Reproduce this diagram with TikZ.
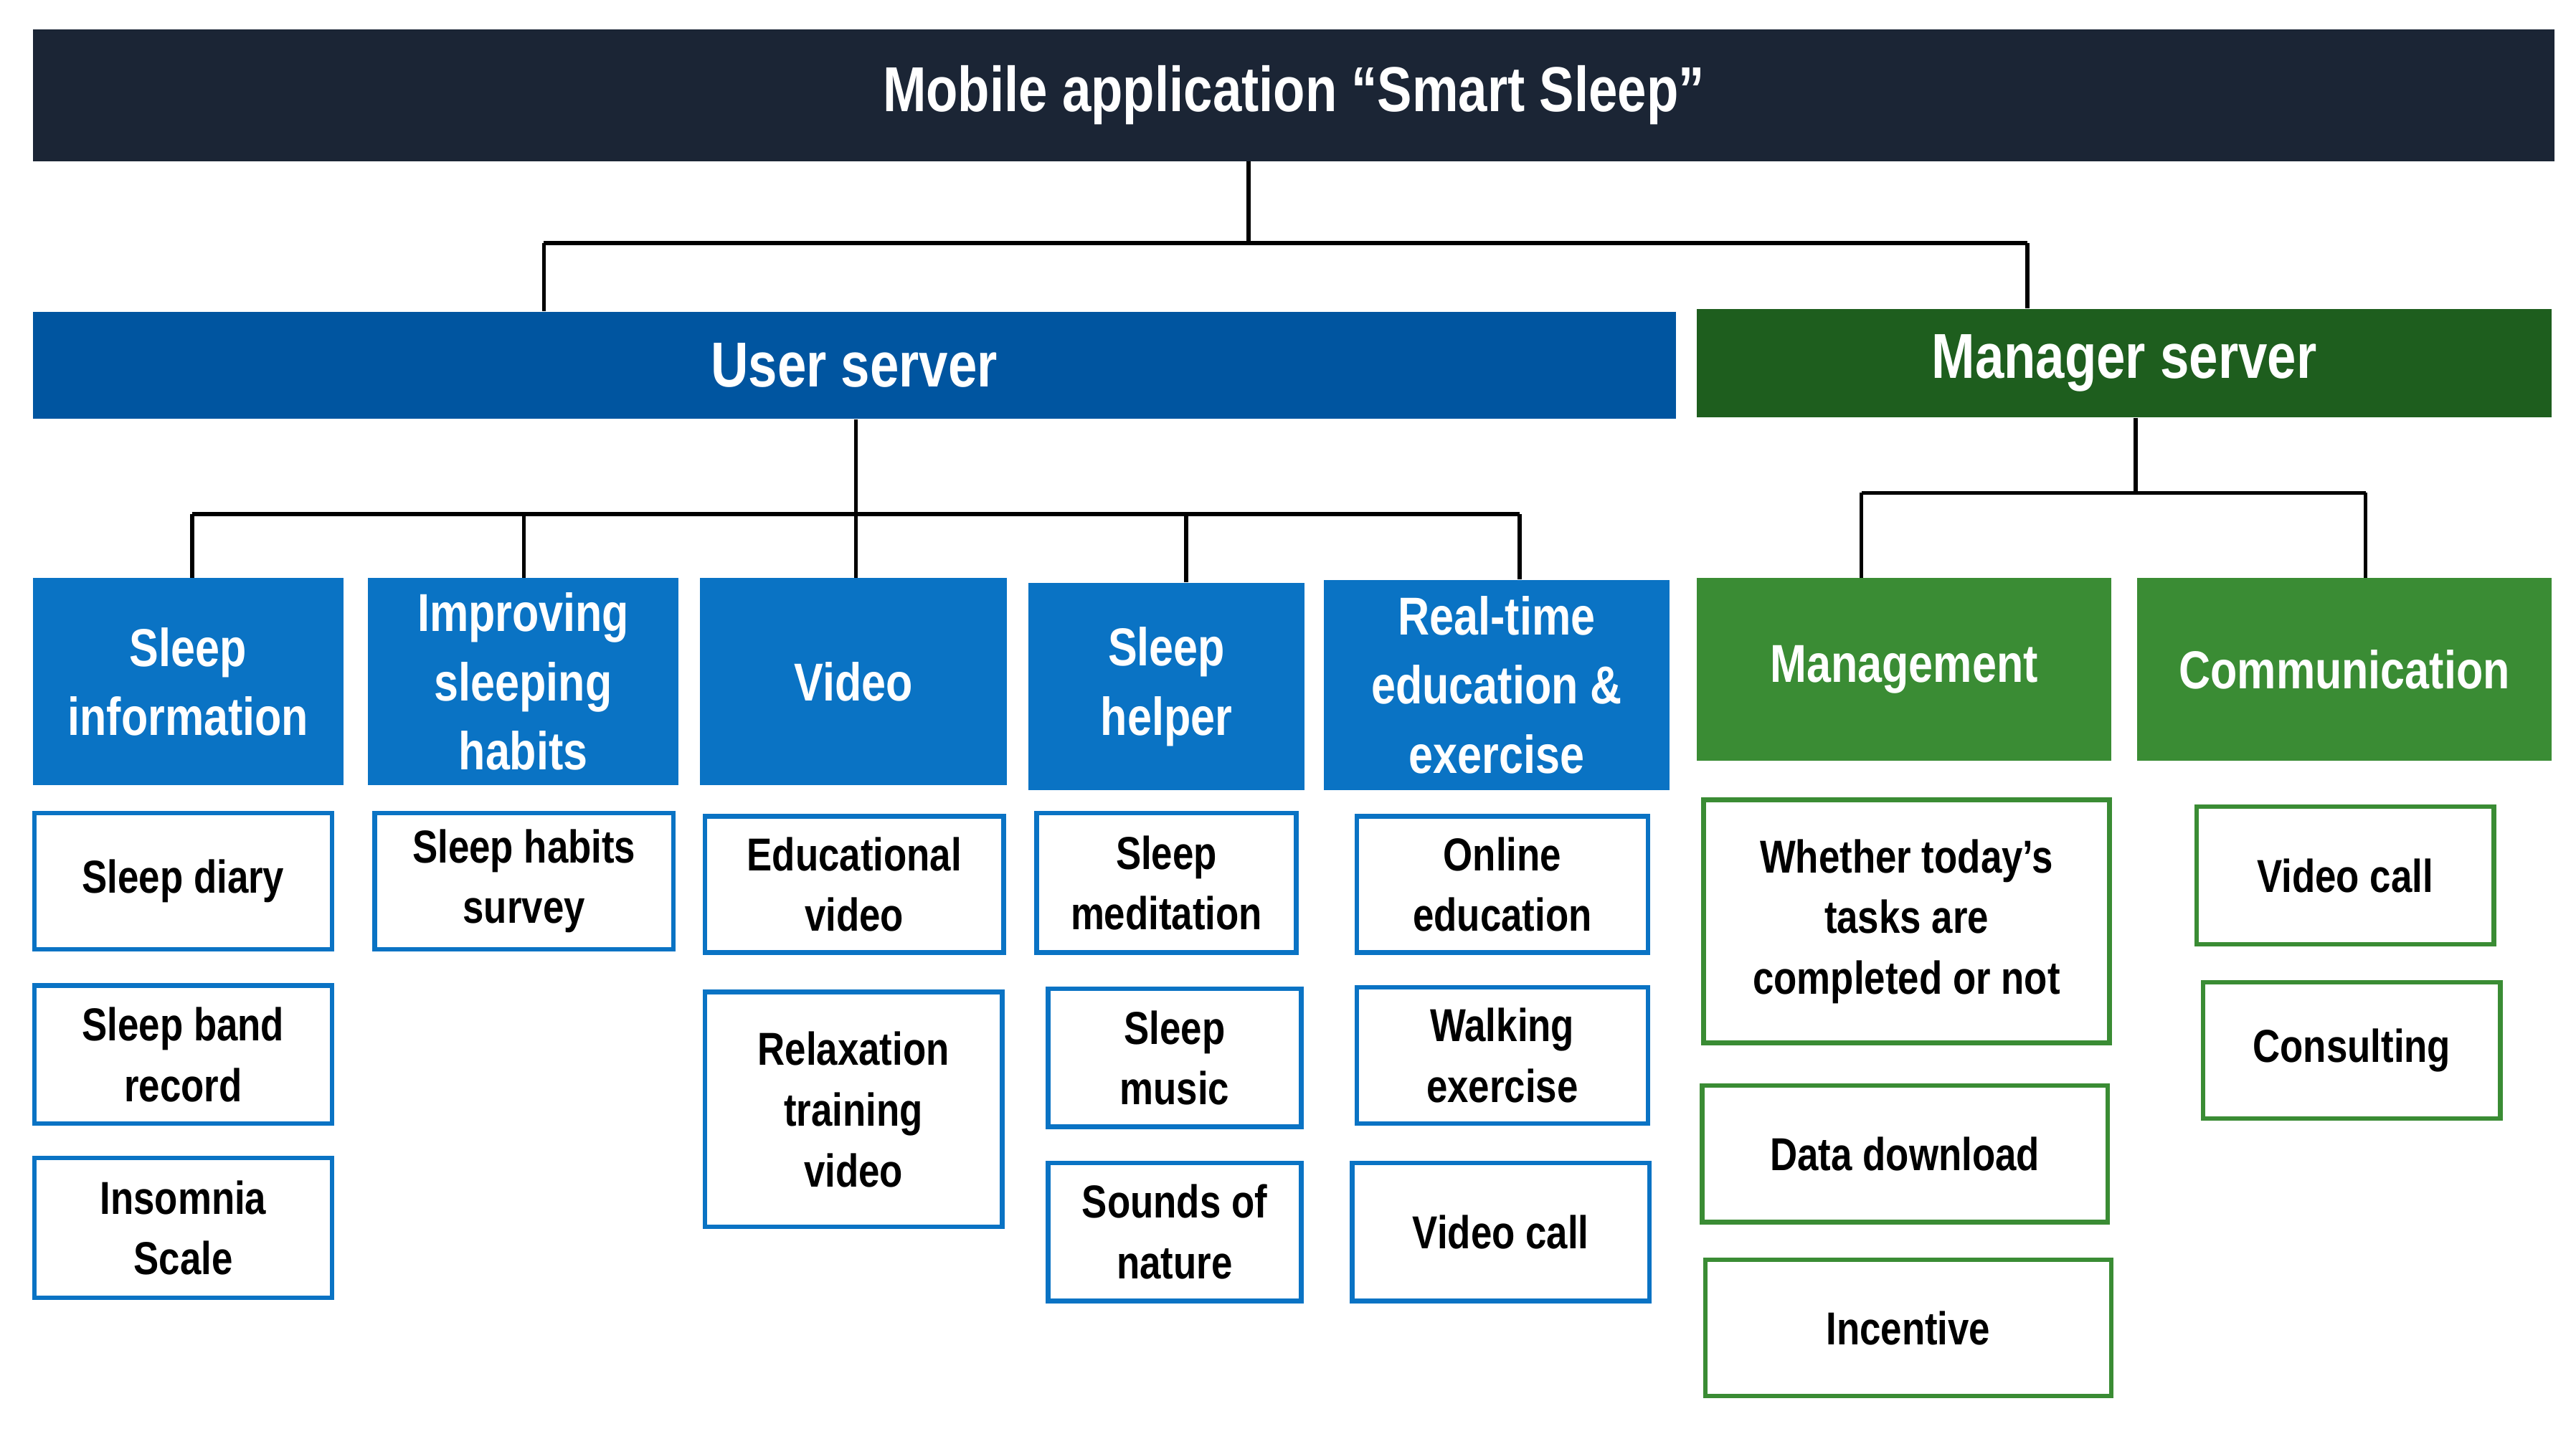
\documentclass[tikz,border=0pt]{standalone}
\usepackage{fontspec}
\setmainfont{Liberation Sans}[FakeStretch=0.82]
\definecolor{navy}{HTML}{1B2535}
\definecolor{ublue}{HTML}{0055A0}
\definecolor{cblue}{HTML}{0A73C4}
\definecolor{dgreen}{HTML}{1E5E1E}
\definecolor{cgreen}{HTML}{3A8C34}
\newcommand\mybox[7]{%
  \pgfmathsetmacro\bw{(#4-#2)*0.02}\pgfmathsetmacro\bh{(#5-#3)*0.02}%
  \node[#6,minimum width=\bw cm,minimum height=\bh cm] (#1) at ({(#2+#4)/2},{(#3+#5)/2}) {#7};}
\begin{document}
\begin{tikzpicture}[x=0.02cm,y=-0.02cm,
  base/.style={inner sep=0pt,align=center,font=\bfseries},
  top/.style={base,fill=navy,text=white,font=\bfseries\fontsize{22}{26}\selectfont},
  srvU/.style={base,fill=ublue,text=white,font=\bfseries\fontsize{22}{26}\selectfont},
  srvM/.style={base,fill=dgreen,text=white,font=\bfseries\fontsize{22}{26}\selectfont},
  catB/.style={base,fill=cblue,text=white,font=\bfseries\fontsize{18.5}{24}\selectfont},
  catG/.style={base,fill=cgreen,text=white,font=\bfseries\fontsize{18.5}{24}\selectfont},
  itB/.style={base,draw=cblue,line width=1.6pt,fill=white,font=\bfseries\fontsize{16}{21}\selectfont},
  itG/.style={base,draw=cgreen,line width=1.6pt,fill=white,font=\bfseries\fontsize{16}{21}\selectfont},
  ln/.style={line width=1.3pt,black}]
\useasboundingbox[fill=white] (0,0) rectangle (1568,873);
\mybox{title}{20}{18}{1555}{98}{top}{Mobile application “Smart Sleep”}
\mybox{user}{20}{190}{1020}{255}{srvU}{User server}
\mybox{mgr}{1033}{188}{1553}{254}{srvM}{Manager server}
\mybox{c1}{20}{352}{209}{478}{catB}{Sleep\\information}
\mybox{c2}{224}{352}{413}{478}{catB}{Improving\\sleeping\\habits}
\mybox{c3}{426}{352}{613}{478}{catB}{Video}
\mybox{c4}{626}{355}{794}{481}{catB}{Sleep\\helper}
\mybox{c5}{806}{353}{1016}{481}{catB}{Real-time\\education \&\\exercise}
\mybox{c6}{1033}{352}{1285}{463}{catG}{Management}
\mybox{c7}{1301}{352}{1553}{463}{catG}{Communication}
\mybox{i1}{21}{495}{202}{578}{itB}{Sleep diary}
\mybox{i2}{21}{600}{202}{684}{itB}{Sleep band\\record}
\mybox{i3}{21}{705}{202}{790}{itB}{Insomnia\\Scale}
\mybox{i4}{228}{495}{410}{578}{itB}{Sleep habits\\survey}
\mybox{i5}{429}{497}{611}{580}{itB}{Educational\\video}
\mybox{i6}{429}{604}{610}{747}{itB}{Relaxation\\training\\video}
\mybox{i7}{631}{495}{789}{580}{itB}{Sleep\\meditation}
\mybox{i8}{638}{602}{792}{686}{itB}{Sleep\\music}
\mybox{i9}{638}{708}{792}{792}{itB}{Sounds of\\nature}
\mybox{i10}{826}{497}{1003}{580}{itB}{Online\\education}
\mybox{i11}{826}{601}{1003}{684}{itB}{Walking\\exercise}
\mybox{i12}{823}{708}{1004}{792}{itB}{Video call}
\mybox{g1}{1037}{487}{1284}{635}{itG}{Whether today's\\tasks are\\completed or not}
\mybox{g2}{1036}{661}{1283}{744}{itG}{Data download}
\mybox{g3}{1038}{767}{1285}{850}{itG}{Incentive}
\mybox{g4}{1337}{491}{1518}{575}{itG}{Video call}
\mybox{g5}{1341}{598}{1522}{681}{itG}{Consulting}
% connectors
\coordinate (tj) at (760,148);
\draw[ln] (title.south -| tj) -- (tj);
\draw[ln] (331,148) coordinate (ua) -- (1234,148) coordinate (ma);
\draw[ln] (ua) -- (ua |- user.north);
\draw[ln] (ma) -- (ma |- mgr.north);
\coordinate (uj) at (521,313);
\draw[ln] (user.south -| uj) -- (uj);
\draw[ln] (117,313) -- (925,313);
\foreach \n/\x in {c1/117,c2/319,c3/521,c4/722,c5/925}
  \draw[ln] (\x,313) -- (\x,0 |- \n.north);
\coordinate (mj) at (1300,300);
\draw[ln] (mgr.south -| mj) -- (mj);
\draw[ln] (1133,300) -- (1440,300);
\foreach \n/\x in {c6/1133,c7/1440}
  \draw[ln] (\x,300) -- (\x,0 |- \n.north);
\end{tikzpicture}
\end{document}
